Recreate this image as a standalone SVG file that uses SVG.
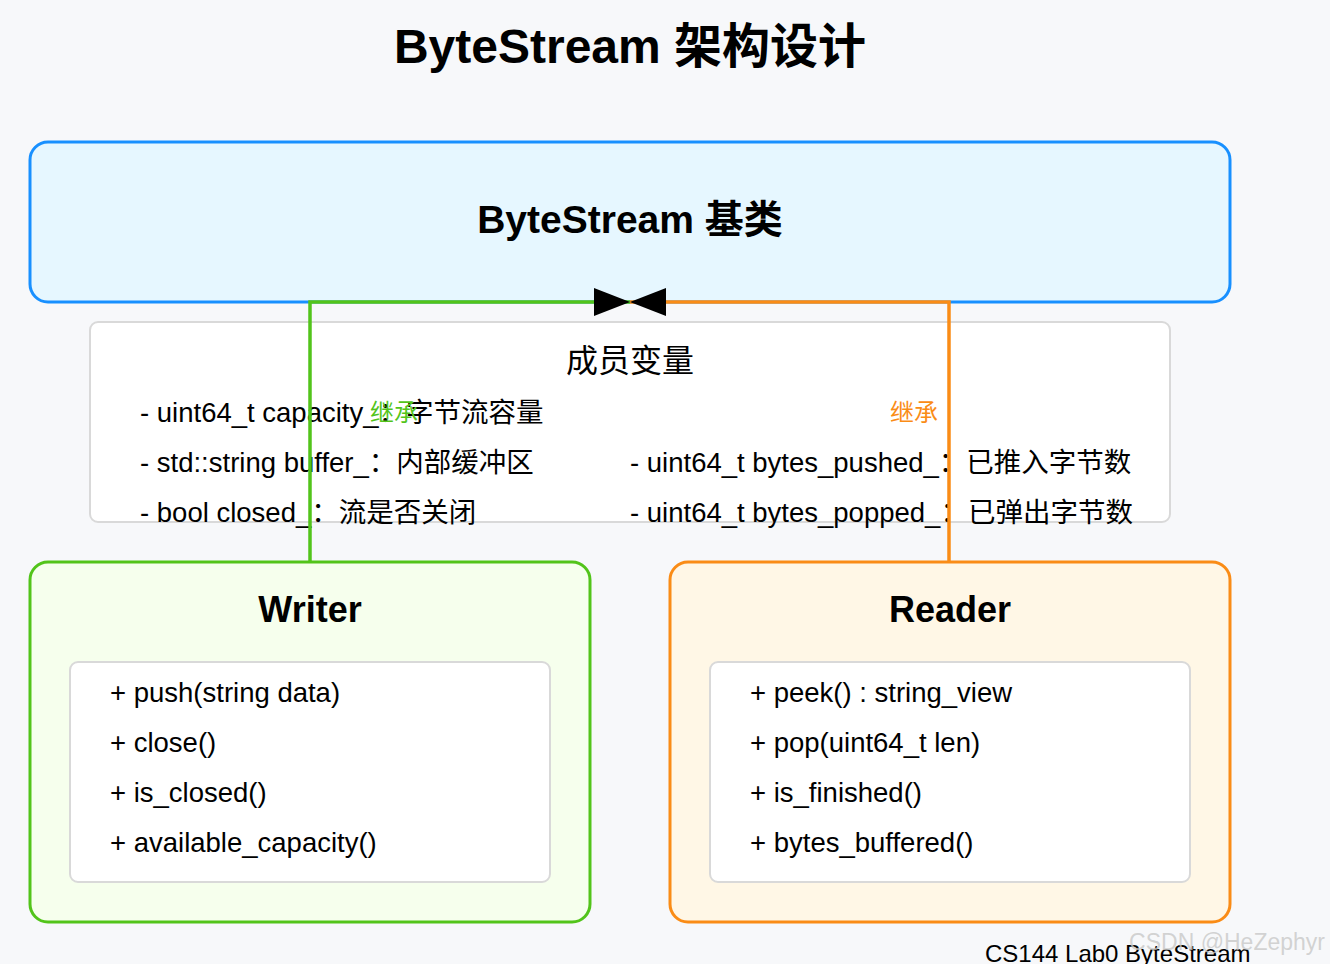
<svg xmlns="http://www.w3.org/2000/svg" width="1330" height="964" viewBox="0 0 1330 964">
<style>
text{font-family:"Liberation Sans","Noto Sans CJK SC",sans-serif;fill:#000}
.title{font-size:48px;font-weight:bold}
.head{font-size:36px;font-weight:bold}
.base{font-size:39px;font-weight:bold}
.item{font-size:27.5px}
.sub{font-size:32px}
.lbl{font-size:24px}
.inner{fill:#fff;stroke:#d9d9d9;stroke-width:2}
.conn{fill:none;stroke-width:3.5}
</style>
<defs>
<marker id="tri" markerUnits="userSpaceOnUse" markerWidth="36" markerHeight="28" refX="36" refY="14" orient="auto">
<path d="M0,0 L36,14 L0,28 z" fill="#000"/>
</marker>
</defs>
<rect width="1330" height="964" fill="#f7f8fa"/>
<text class="title" x="630" y="63" text-anchor="middle">ByteStream 架构设计</text>
<g id="base">
<rect x="30" y="142" width="1200" height="160" rx="18" fill="#e6f7ff" stroke="#1890ff" stroke-width="3"/>
<text class="base" x="630" y="233" text-anchor="middle">ByteStream 基类</text>
</g>
<g id="members">
<rect class="inner" x="90" y="322" width="1080" height="200" rx="8"/>
<text class="sub" x="630" y="372" text-anchor="middle">成员变量</text>
<text class="item" x="140" y="422">- uint64_t capacity_：字节流容量</text>
<text class="item" x="140" y="472">- std::string buffer_：内部缓冲区</text>
<text class="item" x="140" y="522">- bool closed_：流是否关闭</text>
<text class="item" x="630" y="472">- uint64_t bytes_pushed_：已推入字节数</text>
<text class="item" x="630" y="522">- uint64_t bytes_popped_：已弹出字节数</text>
</g>
<g id="writer">
<rect x="30" y="562" width="560" height="360" rx="18" fill="#f6ffed" stroke="#52c41a" stroke-width="3"/>
<text class="head" x="310" y="622" text-anchor="middle">Writer</text>
<rect class="inner" x="70" y="662" width="480" height="220" rx="8"/>
<text class="item" x="110" y="702">+ push(string data)</text>
<text class="item" x="110" y="752">+ close()</text>
<text class="item" x="110" y="802">+ is_closed()</text>
<text class="item" x="110" y="852">+ available_capacity()</text>
</g>
<g id="reader">
<rect x="670" y="562" width="560" height="360" rx="18" fill="#fff7e6" stroke="#fa8c16" stroke-width="3"/>
<text class="head" x="950" y="622" text-anchor="middle">Reader</text>
<rect class="inner" x="710" y="662" width="480" height="220" rx="8"/>
<text class="item" x="750" y="702">+ peek() : string_view</text>
<text class="item" x="750" y="752">+ pop(uint64_t len)</text>
<text class="item" x="750" y="802">+ is_finished()</text>
<text class="item" x="750" y="852">+ bytes_buffered()</text>
</g>
<g id="connectors">
<path class="conn" d="M310,562 V302 H630" stroke="#52c41a" marker-end="url(#tri)"/>
<path class="conn" d="M949,562 V302 H630" stroke="#fa8c16" marker-end="url(#tri)"/>
<text class="lbl" x="394" y="421" text-anchor="middle" style="fill:#52c41a">继承</text>
<text class="lbl" x="914" y="421" text-anchor="middle" style="fill:#fa8c16">继承</text>
</g>
<text x="985" y="962" style="font-size:24px">CS144 Lab0 ByteStream</text>
<text x="1325" y="950" text-anchor="end" style="font-size:23px;fill:#c8c8c8;fill-opacity:0.8">CSDN @HeZephyr</text>
</svg>
